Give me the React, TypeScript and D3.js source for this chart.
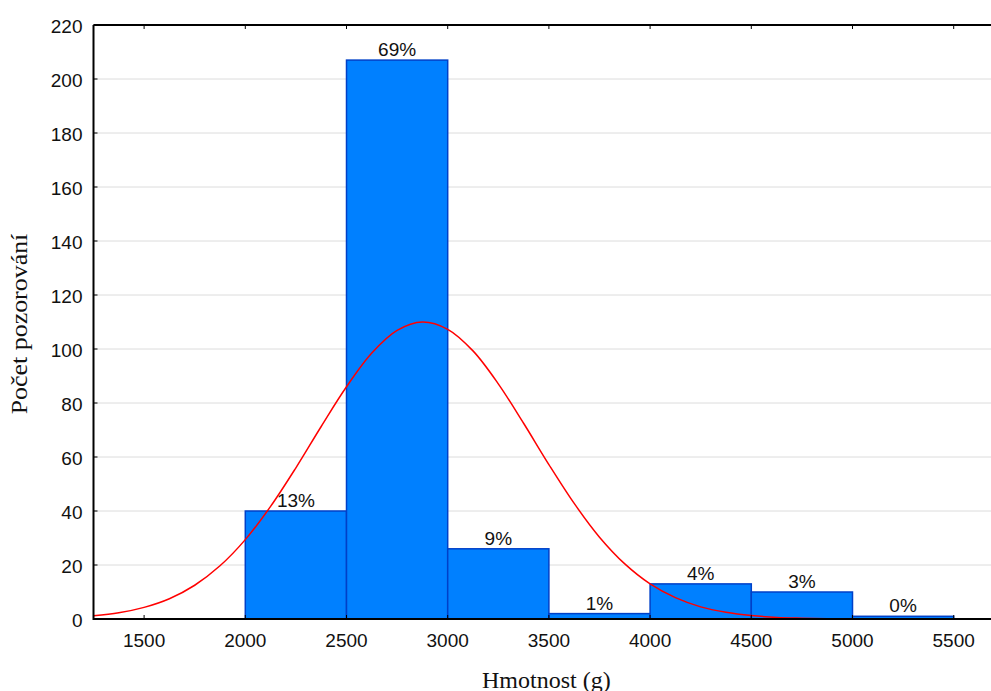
import React, { useEffect, useRef } from 'react';
import * as d3 from 'd3';

// histogram bins (g) and counts
const binStarts = [2000, 2500, 3000, 3500, 4000, 4500, 5000];
const binWidth = 500;
const counts = [40, 207, 26, 2, 13, 10, 1];
const percentLabels = ['13%', '69%', '9%', '1%', '4%', '3%', '0%'];

// fitted normal curve, every 125 g
const curveX = [1250, 1375, 1500, 1625, 1750, 1875, 2000, 2125, 2250, 2375, 2500, 2625, 2750, 2875, 3000, 3125, 3250, 3375, 3500, 3625, 3750, 3875, 4000, 4125, 4250, 4375, 4500, 4625, 4750, 4875, 5000, 5250, 5500, 5750];
const curveY = [1.2, 2.3, 4.3, 7.5, 12.5, 19.7, 29.4, 41.7, 56, 71.3, 86, 98.5, 106.9, 110, 107.3, 99.3, 87.1, 72.5, 57.2, 42.8, 30.3, 20.4, 13, 7.9, 4.5, 2.5, 1.3, 0.6, 0.3, 0.1, 0.05, 0, 0, 0];

const xTicks = [1500, 2000, 2500, 3000, 3500, 4000, 4500, 5000, 5500];
const yTicks = d3.range(0, 221, 20);

const App = () => {
  const svgRef = useRef(null);

  useEffect(() => {
    const svg = d3.select(svgRef.current);
    svg.selectAll('*').remove();

    const width = 991;
    const left = 93.5;
    const top = 25;
    const bottom = 619;
    const pxPer500 = 101.2;

    const x = d3.scaleLinear()
      .domain([1250, 5750])
      .range([left, left + (4500 / 500) * pxPer500]);
    const y = d3.scaleLinear().domain([0, 220]).range([bottom, top]);

    const sans = 'Liberation Sans, Arial, sans-serif';
    const serif = 'Liberation Serif, Times New Roman, serif';

    // gridlines
    svg.append('g')
      .selectAll('line')
      .data(yTicks.filter(d => d > 0 && d < 220))
      .enter()
      .append('line')
      .attr('x1', left)
      .attr('x2', width)
      .attr('y1', d => y(d))
      .attr('y2', d => y(d))
      .attr('stroke', '#dcdcdc')
      .attr('stroke-width', 1);

    // bars
    svg.append('g')
      .selectAll('rect')
      .data(binStarts)
      .enter()
      .append('rect')
      .attr('x', d => x(d))
      .attr('y', (d, i) => y(counts[i]))
      .attr('width', d => x(d + binWidth) - x(d))
      .attr('height', (d, i) => y(0) - y(counts[i]))
      .attr('fill', '#0080ff')
      .attr('stroke', '#0040c8')
      .attr('stroke-width', 1.5);

    // percent labels
    svg.append('g')
      .selectAll('text')
      .data(binStarts)
      .enter()
      .append('text')
      .attr('x', d => x(d + binWidth / 2))
      .attr('y', (d, i) => y(counts[i]) - 4)
      .attr('text-anchor', 'middle')
      .attr('font-family', sans)
      .attr('font-size', 19)
      .attr('fill', '#111')
      .text((d, i) => percentLabels[i]);

    // normal curve
    const line = d3.line()
      .x(d => x(d[0]))
      .y(d => y(d[1]))
      .curve(d3.curveCatmullRom);
    svg.append('path')
      .datum(curveX.map((v, i) => [v, curveY[i]]))
      .attr('d', line)
      .attr('fill', 'none')
      .attr('stroke', '#ff0000')
      .attr('stroke-width', 1.5);

    // frame: left, bottom, top
    const frame = svg.append('g').attr('stroke', '#000').attr('stroke-width', 2);
    frame.append('line').attr('x1', left).attr('x2', left).attr('y1', top).attr('y2', bottom + 1);
    frame.append('line').attr('x1', left).attr('x2', width).attr('y1', bottom).attr('y2', bottom);
    frame.append('line').attr('x1', left).attr('x2', width).attr('y1', top).attr('y2', top);

    // y ticks (inward)
    const yAxis = svg.append('g');
    yAxis.selectAll('line')
      .data(yTicks)
      .enter()
      .append('line')
      .attr('x1', left)
      .attr('x2', left + 4)
      .attr('y1', d => y(d))
      .attr('y2', d => y(d))
      .attr('stroke', '#000');
    yAxis.selectAll('text')
      .data(yTicks)
      .enter()
      .append('text')
      .attr('x', left - 11)
      .attr('y', d => y(d) + 1)
      .attr('dy', '0.35em')
      .attr('text-anchor', 'end')
      .attr('font-family', sans)
      .attr('font-size', 19)
      .attr('fill', '#111')
      .text(d => d);

    // x ticks (inward on bottom and top)
    const xAxis = svg.append('g');
    xAxis.selectAll('line.b')
      .data(xTicks)
      .enter()
      .append('line')
      .attr('x1', d => x(d))
      .attr('x2', d => x(d))
      .attr('y1', bottom)
      .attr('y2', bottom - 4)
      .attr('stroke', '#000');
    xAxis.selectAll('line.t')
      .data(xTicks)
      .enter()
      .append('line')
      .attr('x1', d => x(d))
      .attr('x2', d => x(d))
      .attr('y1', top)
      .attr('y2', top + 4)
      .attr('stroke', '#000');
    xAxis.selectAll('text')
      .data(xTicks)
      .enter()
      .append('text')
      .attr('x', d => x(d))
      .attr('y', bottom + 28)
      .attr('text-anchor', 'middle')
      .attr('font-family', sans)
      .attr('font-size', 19)
      .attr('fill', '#111')
      .text(d => d);

    // axis titles
    svg.append('text')
      .attr('x', 482)
      .attr('y', 688)
      .attr('text-anchor', 'start')
      .attr('font-family', serif)
      .attr('font-size', 24)
      .attr('fill', '#111')
      .text('Hmotnost (g)');

    svg.append('text')
      .attr('transform', `translate(27,324) rotate(-90) scale(1.08,1)`)
      .attr('text-anchor', 'middle')
      .attr('font-family', serif)
      .attr('font-size', 24)
      .attr('fill', '#111')
      .text('Počet pozorování');
  }, []);

  return (
    <div style={{ position: 'absolute', left: 0, top: 0 }}>
      <svg ref={svgRef} width={991} height={691} style={{ display: 'block', background: '#fff' }}></svg>
    </div>
  );
};

export default App;
